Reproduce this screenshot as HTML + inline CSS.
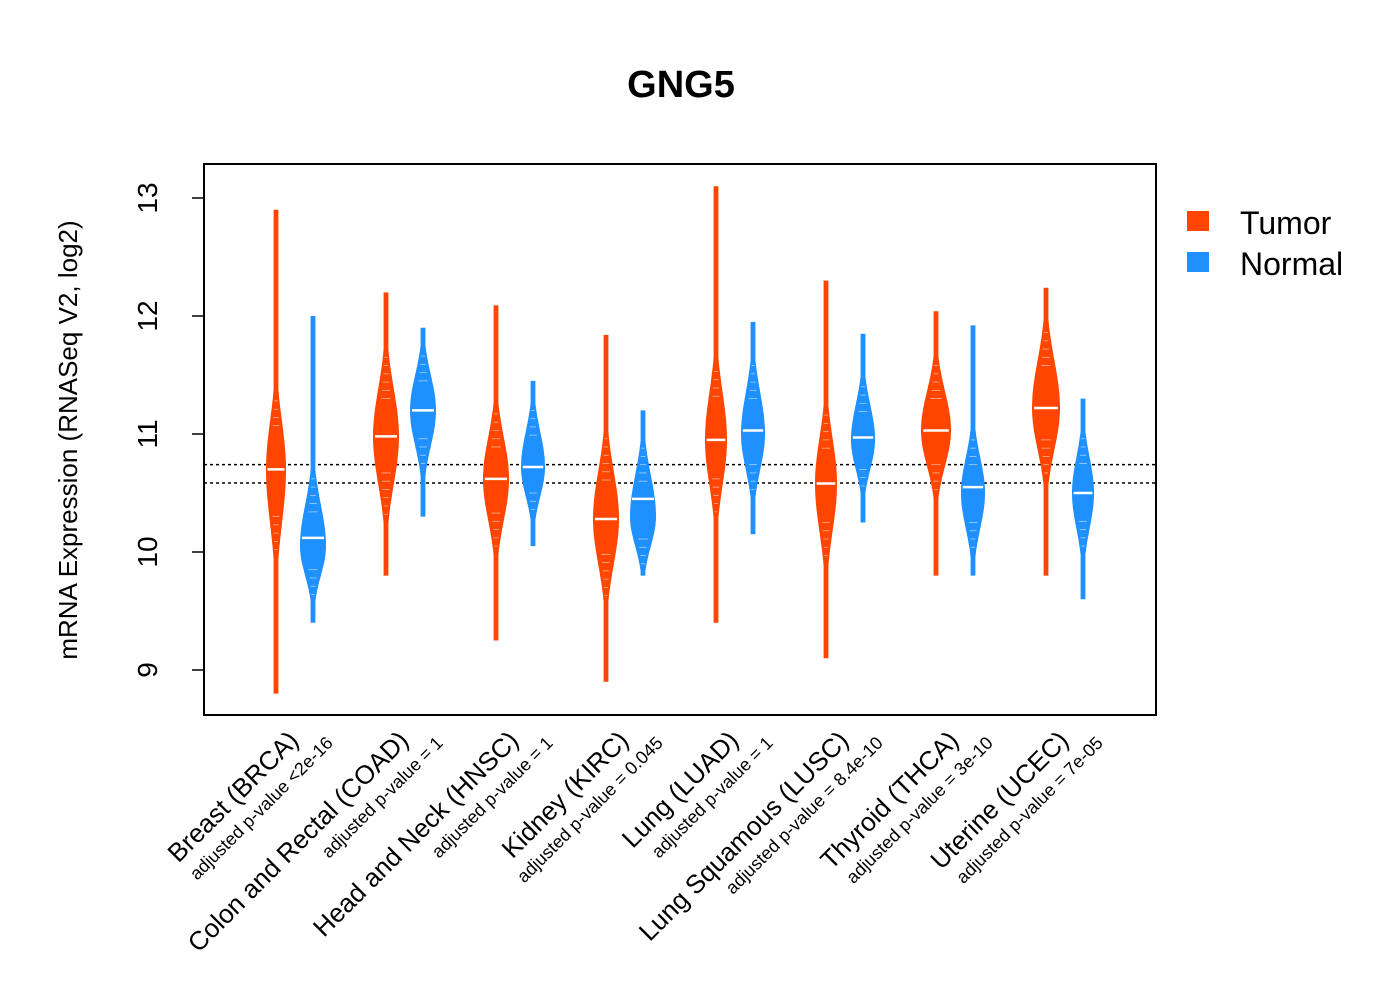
<!DOCTYPE html>
<html><head><meta charset="utf-8"><style>
body{margin:0;background:#fff}
svg{display:block;font-family:"Liberation Sans",Arial,sans-serif}
</style></head><body>
<svg id="chart" width="1400" height="1000" viewBox="0 0 1400 1000">
<text x="681" y="97" font-size="38" font-weight="bold" text-anchor="middle">GNG5</text>
<g id="plot"></g>
<rect x="204" y="164" width="952" height="551" fill="none" stroke="#000" stroke-width="2"/>
<text transform="translate(77,440) rotate(-90)" font-size="26" text-anchor="middle">mRNA Expression (RNASeq V2, log2)</text>
<g>
<rect x="1187" y="211" width="22" height="20" fill="#ff4500"/>
<text x="1240" y="234" font-size="32">Tumor</text>
<rect x="1187" y="252" width="22" height="20" fill="#1e90ff"/>
<text x="1240" y="275" font-size="32">Normal</text>
</g>
</svg>
<script>
const categories=["Breast (BRCA)","Colon and Rectal (COAD)","Head and Neck (HNSC)","Kidney (KIRC)","Lung (LUAD)","Lung Squamous (LUSC)","Thyroid (THCA)","Uterine (UCEC)"];
const pvalues=["adjusted p-value <2e-16","adjusted p-value = 1","adjusted p-value = 1","adjusted p-value = 0.045","adjusted p-value = 1","adjusted p-value = 8.4e-10","adjusted p-value = 3e-10","adjusted p-value = 7e-05"];
const tumorMin=[8.8,9.8,9.25,8.9,9.4,9.1,9.8,9.8];
const tumorMax=[12.9,12.2,12.1,11.85,13.1,12.3,12.05,12.25];
const tumorMedian=[10.7,10.98,10.62,10.28,10.95,10.58,11.03,11.22];
const tumorSdLow=[0.45,0.4,0.35,0.38,0.38,0.4,0.3,0.35];
const tumorSdHigh=[0.4,0.4,0.35,0.4,0.4,0.38,0.33,0.4];
const tumorWidth=[10,13,13,13,11,11,15,14];
const normalMin=[9.4,10.3,10.05,9.8,10.15,10.25,9.8,9.6];
const normalMax=[12.0,11.9,11.45,11.2,11.95,11.85,11.92,11.3];
const normalMedian=[10.05,11.2,10.72,10.3,11.0,10.95,10.5,10.5];
const normalSdLow=[0.25,0.3,0.25,0.25,0.3,0.25,0.3,0.3];
const normalSdHigh=[0.35,0.3,0.3,0.35,0.35,0.3,0.3,0.3];
const normalWidth=[13,13,12,13,12,12,12,11];
const normalMedianLine=[10.12,11.2,10.72,10.45,11.03,10.97,10.55,10.5];
const yTicks=[9,10,11,12,13];
const refLines=[10.74,10.585];

const NS="http://www.w3.org/2000/svg";
const plot=document.getElementById('plot');
const svg=document.getElementById('chart');
const yS=v=>670-(v-9)*118;
const xT=i=>276+i*110;
const xN=i=>313+i*110;
function mk(tag,attrs,parent){const e=document.createElementNS(NS,tag);for(const k in attrs)e.setAttribute(k,attrs[k]);(parent||plot).appendChild(e);return e;}

refLines.forEach((v,i)=>{
 const l=mk('line',{x1:204,x2:1156,y1:yS(v),y2:yS(v),stroke:'#000','stroke-width':1.5,'stroke-dasharray':'3,3'});
 
 
});
yTicks.forEach(v=>{
 const t=mk('line',{x1:192,x2:204,y1:yS(v),y2:yS(v),stroke:'#000','stroke-width':1.5},svg);
 
 
 const tx=mk('text',{transform:`translate(157,${yS(v)}) rotate(-90)`,'font-size':28,'text-anchor':'middle'},svg);
 tx.textContent=v;
 
 
});
mk('line',{x1:204,x2:204,y1:yS(9),y2:yS(13),stroke:'#000','stroke-width':1.5},svg);

function violin(cx,mn,mx,med,sdL,sdH,W,color,name,medLine){
 const left=[],right=[];
 for(let v=mn;v<=mx+1e-9;v+=0.02){
  const sd=v<med?sdL:sdH;
  let w=W*Math.exp(-0.5*Math.pow((v-med)/sd,2));
  w=Math.max(w,2.4);
  left.push([cx-w,yS(v)]);right.push([cx+w,yS(v)]);
 }
 const pts=left.concat(right.reverse()).map(p=>p[0].toFixed(1)+','+p[1].toFixed(1)).join(' ');
 const p=mk('polygon',{points:pts,fill:color});
 
 
 for(let v=mn+0.1;v<mx;v+=0.07){
  const sd=v<med?sdL:sdH;
  const w=W*Math.exp(-0.5*Math.pow((v-med)/sd,2));
  if(w>3&&w<W*0.75){mk('line',{x1:cx-w*0.5,x2:cx+w*0.5,y1:yS(v),y2:yS(v),stroke:'#fff','stroke-width':0.8,opacity:0.6});}
 }
 const m=mk('line',{x1:cx-W*0.85,x2:cx+W*0.85,y1:yS(medLine),y2:yS(medLine),stroke:'#fff','stroke-width':2.5});
 
 
}
categories.forEach((c,i)=>{
 violin(xT(i),tumorMin[i],tumorMax[i],tumorMedian[i],tumorSdLow[i],tumorSdHigh[i],tumorWidth[i],'#ff4500','violin-tumor-'+i,tumorMedian[i]);
 violin(xN(i),normalMin[i],normalMax[i],normalMedian[i],normalSdLow[i],normalSdHigh[i],normalWidth[i],'#1e90ff','violin-normal-'+i,normalMedianLine[i]);
 const t=mk('text',{transform:`translate(${xT(i)+24},742) rotate(-45)`,'font-size':26,'text-anchor':'end'},svg);
 t.textContent=c;
 
 
 const p=mk('text',{transform:`translate(${xT(i)+58},744) rotate(-45)`,'font-size':18,'text-anchor':'end'},svg);
 p.textContent=pvalues[i];
 
 
});
</script>
</body></html>
